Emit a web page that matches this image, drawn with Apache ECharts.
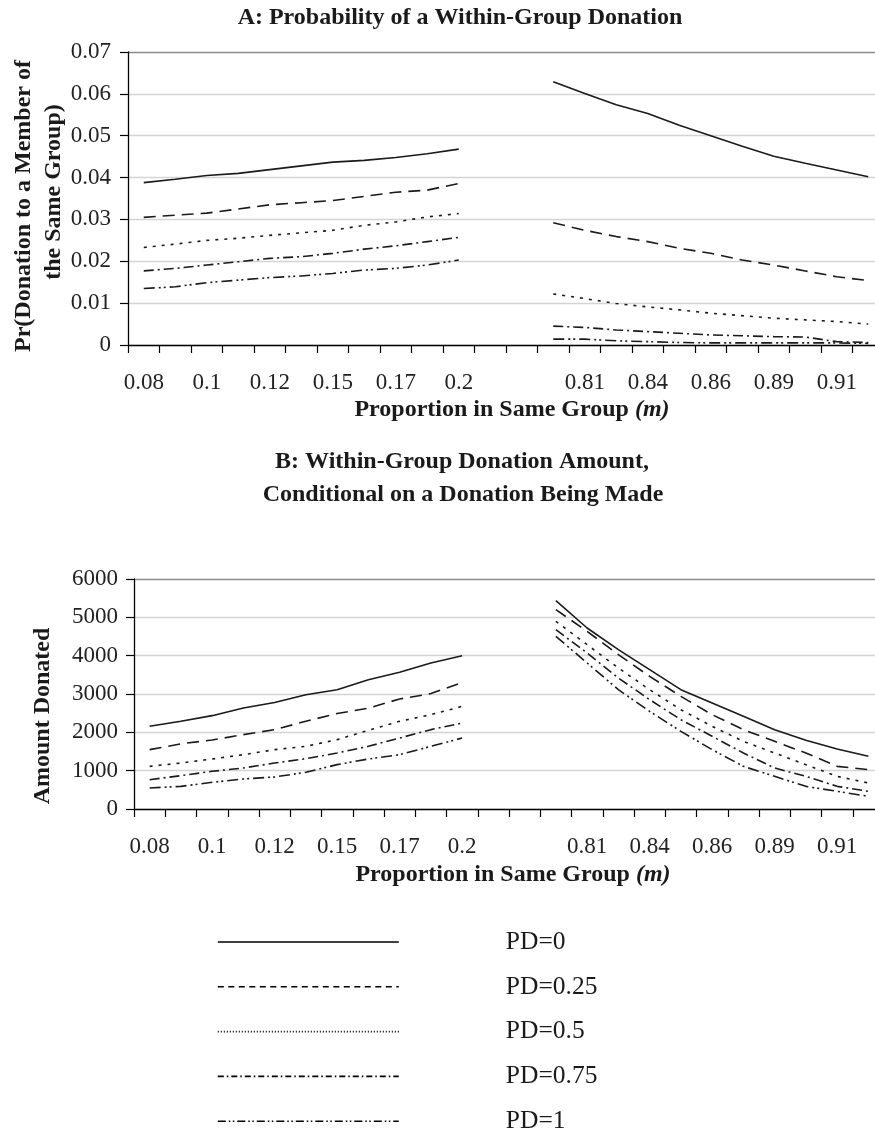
<!DOCTYPE html>
<html>
<head>
<meta charset="utf-8">
<script src="https://cdn.jsdelivr.net/npm/echarts@6/dist/echarts.min.js"></script>
<style>html,body{margin:0;padding:0;background:#fff}#c{width:875px;height:1137px}</style>
</head>
<body>
<div id="c"></div>
<script>
// ---- data ----
const categories = ['0.08','0.09','0.1','0.11','0.12','0.14','0.15','0.16','0.17','0.19','0.2',' ','  ',
  '0.8','0.81','0.82','0.84','0.85','0.86','0.87','0.89','0.9','0.91','0.92'];
const seriesNames = ['PD=0','PD=0.25','PD=0.5','PD=0.75','PD=1'];

const probPD0   = [0.0388,0.0396,0.0405,0.0410,0.0419,0.0428,0.0437,0.0441,0.0448,0.0457,0.0468,null,null,0.0629,0.0601,0.0574,0.0553,0.0525,0.0500,0.0475,0.0451,0.0434,0.0418,0.0402];
const probPD025 = [0.0305,0.0310,0.0315,0.0325,0.0335,0.0340,0.0345,0.0355,0.0365,0.0370,0.0386,null,null,0.0292,0.0274,0.0259,0.0247,0.0231,0.0219,0.0203,0.0191,0.0177,0.0163,0.0154];
const probPD05  = [0.0233,0.0241,0.0250,0.0255,0.0262,0.0268,0.0274,0.0286,0.0294,0.0306,0.0314,null,null,0.0122,0.0111,0.0099,0.0091,0.0084,0.0076,0.0070,0.0064,0.0060,0.0056,0.0050];
const probPD075 = [0.0177,0.0183,0.0191,0.0199,0.0207,0.0211,0.0219,0.0229,0.0237,0.0247,0.0257,null,null,0.0045,0.0042,0.0036,0.0032,0.0028,0.0024,0.0022,0.0020,0.0019,0.0008,0.0006];
const probPD1   = [0.0135,0.0139,0.0149,0.0155,0.0161,0.0165,0.0171,0.0179,0.0183,0.0191,0.0203,null,null,0.0014,0.0014,0.0010,0.0008,0.0006,0.0005,0.0005,0.0005,0.0005,0.0005,0.0004];

const amtPD0   = [2157,2290,2435,2635,2780,2980,3110,3370,3565,3810,4000,null,null,5435,4722,4157,3635,3113,2765,2417,2070,1791,1565,1374];
const amtPD025 = [1548,1700,1800,1940,2070,2290,2490,2630,2870,3010,3300,null,null,5200,4635,4026,3461,2939,2461,2070,1765,1461,1113,1026];
const amtPD05  = [1113,1200,1304,1417,1548,1635,1810,2052,2287,2460,2678,null,null,4896,4287,3678,3113,2591,2157,1765,1461,1157,852,678];
const amtPD075 = [765,870,983,1070,1200,1313,1460,1635,1852,2070,2243,null,null,4678,4070,3417,2852,2330,1896,1461,1070,852,591,461];
const amtPD1   = [548,591,696,783,835,957,1157,1304,1417,1635,1852,null,null,4504,3809,3113,2548,2026,1548,1113,852,591,461,330];

// ---- styles ----
const INK = '#1a1a1a';
const SERIF = '"Liberation Serif","Times New Roman",serif';
const chartDash  = ['solid', [12,7], [3,6], [10,4,2,4], [11,4,2,3,2,4]];
const legendDash = ['solid', [6,4.5], [1,2], [6,3,1.5,3], [8,3,1.5,2.5,1.5,3]];

const probData = [probPD0, probPD025, probPD05, probPD075, probPD1];
const amtData  = [amtPD0, amtPD025, amtPD05, amtPD075, amtPD1];

function xAxisFor(gridIndex){
  return {
    type:'category', gridIndex, data: categories, boundaryGap:true,
    axisLine:{show:true, lineStyle:{color:'#000', width:1.3}},
    axisTick:{show:true, interval:0, length:8, inside:false, lineStyle:{color:'#000', width:1.2}},
    axisLabel:{interval:1, margin:26, fontFamily:SERIF, fontSize:23, color:'#222'},
    splitLine:{show:false}
  };
}
function yAxisFor(gridIndex, max, interval, n, margin){
  const cols = [];
  for(let i=0;i<n;i++) cols.push(i===n-1 ? '#8c8c8c' : '#d4d4d4');
  return {
    type:'value', gridIndex, min:0, max, interval,
    axisLine:{show:true, lineStyle:{color:'#000', width:1.3}},
    axisTick:{show:true, length:8, lineStyle:{color:'#000', width:1.2}},
    axisLabel:{margin, fontFamily:SERIF, fontSize:23, color:'#222', formatter: v => String(v)},
    splitLine:{show:true, lineStyle:{color:cols, width:1.3}}
  };
}

const series = [];
seriesNames.forEach((name,i)=>{
  series.push({name, type:'line', xAxisIndex:0, yAxisIndex:0, data:probData[i], symbol:'none', connectNulls:false,
    lineStyle:{color:INK, width:1.6, type:chartDash[i]}, itemStyle:{color:INK}, animation:false});
});
seriesNames.forEach((name,i)=>{
  series.push({name, type:'line', xAxisIndex:1, yAxisIndex:1, data:amtData[i], symbol:'none', connectNulls:false,
    lineStyle:{color:INK, width:1.6, type:chartDash[i]}, itemStyle:{color:INK}, animation:false});
});

const bold = {fontFamily:SERIF, fontWeight:'bold', fontSize:24, fill:'#1a1a1a'};
function txt(text, x, y, extra){
  return Object.assign({type:'text', x, y, silent:true,
    style:Object.assign({text, align:'center', verticalAlign:'middle'}, bold)}, extra||{});
}
const axisNameRich = {
  b:{fontFamily:SERIF, fontWeight:'bold', fontSize:24, fill:'#1a1a1a'},
  i:{fontFamily:SERIF, fontWeight:'bold', fontStyle:'italic', fontSize:24, fill:'#1a1a1a'}
};

const option = {
  animation:false,
  backgroundColor:'#fff',
  grid:[
    {left:128, top:52, width:756, height:293, outerBoundsMode:'none', containLabel:false},
    {left:134, top:579, width:750, height:230, outerBoundsMode:'none', containLabel:false}
  ],
  xAxis:[xAxisFor(0), xAxisFor(1)],
  yAxis:[yAxisFor(0, 0.07, 0.01, 8, 17), yAxisFor(1, 6000, 1000, 7, 16)],
  legend:{
    orient:'vertical', left:217, top:929, height:400, padding:0,
    itemWidth:181, itemHeight:20, itemGap:18.8,
    selectedMode:false,
    itemStyle:{opacity:0, borderWidth:0},
    data: seriesNames.map((n,i)=>({name:n, lineStyle:{type:legendDash[i], color:'#000', width:1.6}, itemStyle:{opacity:0}})),
    formatter: name => '{p|' + name + '}',
    textStyle:{rich:{p:{padding:[0,0,0,102], fontFamily:SERIF, fontSize:25.5, color:'#1a1a1a', lineHeight:20}}}
  },
  graphic:[
    txt('A: Probability of a Within-Group Donation', 460, 18),
    txt('B: Within-Group Donation Amount,', 462, 462),
    txt('Conditional on a Donation Being Made', 463, 495),
    {type:'text', x:512, y:410, silent:true, style:{text:'{b|Proportion in Same Group }{i|(m)}', rich:axisNameRich, align:'center', verticalAlign:'middle'}},
    {type:'text', x:513, y:875, silent:true, style:{text:'{b|Proportion in Same Group }{i|(m)}', rich:axisNameRich, align:'center', verticalAlign:'middle'}},
    txt('Pr(Donation to a Member of', 24, 206, {rotation:Math.PI/2}),
    txt('the Same Group)', 54, 192, {rotation:Math.PI/2}),
    txt('Amount Donated', 43, 716, {rotation:Math.PI/2})
  ],
  series
};

const chart = echarts.init(document.getElementById('c'), null, {renderer:'canvas'});
chart.setOption(option);
</script>
</body>
</html>
